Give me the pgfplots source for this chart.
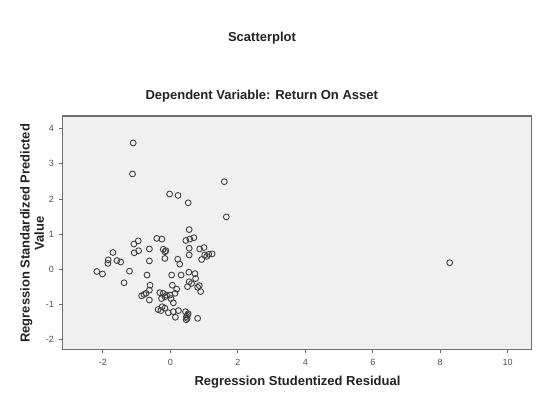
\documentclass[border=0pt]{standalone}
\usepackage{pgfplots}
\pgfplotsset{compat=1.18}
\usepackage{fontspec}
\setmainfont{Liberation Sans}
\definecolor{bgcol}{HTML}{F0F0F0}
\definecolor{framecol}{HTML}{6E6E6E}
\definecolor{tickcol}{HTML}{505050}
\definecolor{markcol}{HTML}{3C3C3C}
\definecolor{txtcol}{HTML}{222222}
\begin{document}
\begin{tikzpicture}[x=1pt,y=1pt]
\path[use as bounding box] (0,0) rectangle (403.5,300);
\begin{axis}[
  at={(47.0pt,38.0pt)}, anchor=south west,
  width=351.5pt, height=175pt, scale only axis,
  xmin=-3.19, xmax=10.70, ymin=-2.27, ymax=4.355,
  xtick={-2,0,2,4,6,8,10}, ytick={-2,-1,0,1,2,3,4},
  tick align=outside, tick pos=left,
  major tick length=3pt,
  axis background/.style={fill=bgcol},
  axis line style={draw=framecol, line width=0.9pt},
  tick style={draw=framecol, line width=0.6pt},
  ticklabel style={font=\fontsize{6.75}{8}\selectfont, text=tickcol},
  /pgf/number format/assume math mode=true,
  xticklabel style={yshift=-1pt},
]
\addplot[only marks, mark=o, mark size=2.2pt, mark options={draw=markcol, line width=0.65pt}] coordinates {
(-1.10,3.59) (-1.12,2.71) (-0.02,2.14) (0.23,2.10) (0.53,1.89) (1.60,2.49) (1.66,1.49) (0.56,1.13)
(-0.40,0.88) (-0.25,0.86) (0.46,0.82) (0.58,0.86) (0.70,0.90)
(-0.95,0.81) (-1.08,0.72) (-0.94,0.53) (-1.07,0.47) (-0.62,0.58) (-0.62,0.24)
(-0.21,0.57) (-0.13,0.53) (-0.16,0.50) (-0.16,0.31)
(0.56,0.60) (0.56,0.41) (0.87,0.58) (1.00,0.62) (0.93,0.28) (1.02,0.41) (1.14,0.43) (1.24,0.44) (1.08,0.37)
(0.22,0.29) (0.28,0.15)
(-1.70,0.48) (-1.84,0.27) (-1.85,0.17) (-1.58,0.25) (-1.47,0.21)
(-2.18,-0.06) (-2.01,-0.13) (-1.21,-0.05) (-0.69,-0.16) (-1.37,-0.38)
(0.04,-0.16) (0.32,-0.16) (0.55,-0.08) (0.73,-0.12) (0.75,-0.26)
(0.56,-0.35) (0.63,-0.40) (0.51,-0.49) (0.81,-0.51) (0.86,-0.46) (0.90,-0.63)
(-0.60,-0.45) (-0.62,-0.59) (-0.72,-0.68) (-0.85,-0.75) (-0.78,-0.71) (-0.62,-0.87)
(0.06,-0.45) (0.19,-0.56) (0.14,-0.68) (-0.01,-0.73)
(-0.31,-0.66) (-0.21,-0.68) (-0.16,-0.78) (-0.11,-0.73) (-0.26,-0.83) (0.02,-0.83) (0.09,-0.95)
(-0.24,-1.06) (-0.16,-1.10) (-0.36,-1.14) (-0.28,-1.17) (-0.06,-1.23) (0.09,-1.20) (0.24,-1.17)
(0.45,-1.20) (0.48,-1.34) (0.50,-1.39) (0.53,-1.26) (0.81,-1.39) (0.15,-1.36) (0.47,-1.43) (0.51,-1.30)
(8.28,0.19)
};
\end{axis}
\node[font=\bfseries\fontsize{9.75}{11}\selectfont, text=txtcol] at (196.5,271.3) {Scatterplot};
\node[font=\bfseries\fontsize{9.75}{11}\selectfont, text=txtcol] at (196.3,228.2) {Dependent Variable: Return On Asset};
\node[font=\bfseries\fontsize{9.75}{11}\selectfont, text=txtcol] at (223.1,13.7) {Regression Studentized Residual};
\node[font=\bfseries\fontsize{9.75}{10.7}\selectfont, text=txtcol, rotate=90, align=center] at (24.1,125) {Regression Standardized Predicted\\Value};
\end{tikzpicture}
\end{document}
